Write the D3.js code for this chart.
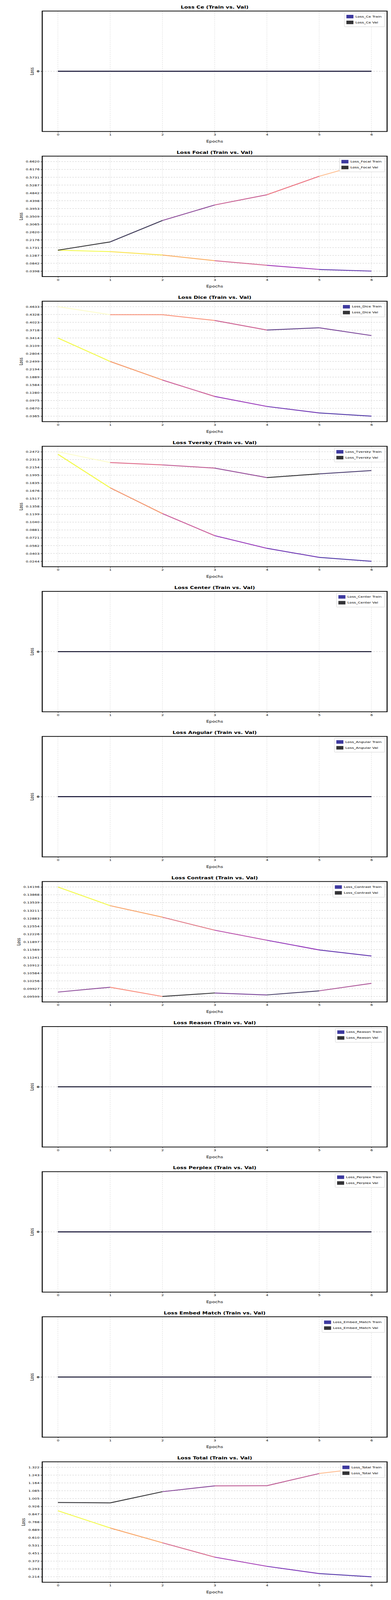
<!DOCTYPE html>
<html>
<head>
<meta charset="utf-8">
<script src="https://cdn.jsdelivr.net/npm/d3@7"></script>
<style>
  html, body { margin: 0; padding: 0; background: #fff; overflow: hidden; }
  #chart { display: block; width: 100vw; height: 100vh; }
  text { font-family: "DejaVu Sans", sans-serif; }
</style>
</head>
<body>
<svg id="chart" viewBox="0 0 1000 5500" preserveAspectRatio="none"></svg>
<script>
const epochs = [0, 1, 2, 3, 4, 5, 6];

const lossNames = ['Ce', 'Focal', 'Dice', 'Tversky', 'Center', 'Angular',
  'Contrast', 'Reason', 'Perplex', 'Embed_Match', 'Total'];

const zeros = [0, 0, 0, 0, 0, 0, 0];

const trainCe = zeros;
const valCe = zeros;
const trainFocal = [0.1586, 0.1503, 0.1310, 0.0990, 0.0730, 0.0492, 0.0398];
const valFocal = [0.1586, 0.2056, 0.3271, 0.4156, 0.4736, 0.5786, 0.6620];
const trainDice = [0.3413, 0.2497, 0.1774, 0.1134, 0.0744, 0.0490, 0.0365];
const valDice = [0.4633, 0.4322, 0.4322, 0.4095, 0.3724, 0.3811, 0.3508];
const trainTversky = [0.2421, 0.1739, 0.1214, 0.0765, 0.0507, 0.0323, 0.0244];
const valTversky = [0.2472, 0.2252, 0.2205, 0.2139, 0.1947, 0.2022, 0.2090];
const trainCenter = zeros;
const valCenter = zeros;
const trainAngular = zeros;
const valAngular = zeros;
const trainContrast = [0.14196, 0.13411, 0.12929, 0.12382, 0.11961, 0.11552, 0.11299];
const valContrast = [0.09783, 0.09987, 0.09599, 0.09746, 0.09664, 0.09836, 0.10151];
const trainReason = zeros;
const valReason = zeros;
const trainPerplex = zeros;
const valPerplex = zeros;
const trainEmbed = zeros;
const valEmbed = zeros;
const trainTotal = [0.882, 0.708, 0.558, 0.413, 0.320, 0.246, 0.214];
const valTotal = [0.966, 0.962, 1.075, 1.134, 1.136, 1.259, 1.322];

// decimals used for the y tick labels of each panel
const tickDigits = [0, 4, 4, 4, 0, 0, 5, 0, 0, 0, 3];

const trainSeries = [trainCe, trainFocal, trainDice, trainTversky, trainCenter, trainAngular,
  trainContrast, trainReason, trainPerplex, trainEmbed, trainTotal];
const valSeries = [valCe, valFocal, valDice, valTversky, valCenter, valAngular,
  valContrast, valReason, valPerplex, valEmbed, valTotal];

const svg = d3.select('#chart');
const left = 108, right = 990, plotH = 414, period = 498.7, top0 = 38;

const x = d3.scaleLinear().domain([-0.3, 6.3]).range([left, right]);

lossNames.forEach((name, k) => {
  const top = top0 + k * period;
  const bottom = top + plotH;
  const label = name.replace('_', ' ');
  const tr = trainSeries[k], va = valSeries[k];
  const all = tr.concat(va);
  const lo = d3.min(all), hi = d3.max(all);
  const flat = hi === lo;
  const pad = flat ? 0.055 : (hi - lo) * 0.05;
  const y = d3.scaleLinear().domain([lo - pad, hi + pad]).range([bottom, top]);
  const ticks = flat ? [lo] : d3.range(15).map(i => lo + (hi - lo) * i / 14);

  const g = svg.append('g');

  // grid
  g.append('g').selectAll('line').data(epochs).join('line')
    .attr('x1', d => x(d)).attr('x2', d => x(d))
    .attr('y1', top).attr('y2', bottom)
    .attr('stroke', '#b0b0b0').attr('stroke-width', 0.8)
    .attr('stroke-dasharray', '4,3').attr('opacity', 0.7);
  g.append('g').selectAll('line').data(ticks).join('line')
    .attr('x1', left).attr('x2', right)
    .attr('y1', d => y(d)).attr('y2', d => y(d))
    .attr('stroke', '#b0b0b0').attr('stroke-width', 0.8)
    .attr('stroke-dasharray', '4,3').attr('opacity', 0.9);

  // lines: each segment coloured by its starting value
  const drawLine = (vals, cmap) => {
    const vlo = d3.min(vals), vhi = d3.max(vals);
    const norm = v => vhi === vlo ? 0 : (v - vlo) / (vhi - vlo);
    const segs = d3.pairs(vals.map((v, i) => [epochs[i], v]));
    g.append('g').selectAll('line').data(segs).join('line')
      .attr('x1', d => x(d[0][0])).attr('y1', d => y(d[0][1]))
      .attr('x2', d => x(d[1][0])).attr('y2', d => y(d[1][1]))
      .attr('stroke', d => cmap(norm(d[0][1])))
      .attr('stroke-opacity', 0.8)
      .attr('stroke-width', 3)
      .attr('stroke-linecap', 'butt');
  };
  drawLine(tr, d3.interpolatePlasma);
  drawLine(va, d3.interpolateMagma);

  // frame
  g.append('rect').attr('x', left).attr('y', top)
    .attr('width', right - left).attr('height', plotH)
    .attr('fill', 'none').attr('stroke', '#000').attr('stroke-width', 2.5);

  // axes
  const xAxis = g.append('g').attr('transform', `translate(0,${bottom})`)
    .call(d3.axisBottom(x).tickValues(epochs).tickFormat(d3.format('d')).tickSize(4));
  const yAxis = g.append('g').attr('transform', `translate(${left},0)`)
    .call(d3.axisLeft(y).tickValues(ticks)
      .tickFormat(d => flat ? '0' : d.toFixed(tickDigits[k])).tickSize(4));
  [xAxis, yAxis].forEach(a => {
    a.select('.domain').remove();
    a.selectAll('text').attr('font-size', 10).attr('fill', '#000')
      .attr('font-family', '"DejaVu Sans", sans-serif');
  });
  if (flat) yAxis.selectAll('text').attr('font-weight', 'bold');
  const yW = yAxis.node().getBBox().width;

  g.append('text').attr('x', (left + right) / 2).attr('y', top - 8)
    .attr('text-anchor', 'middle').attr('font-size', 14).attr('font-weight', 'bold')
    .text(`Loss ${label} (Train vs. Val)`);
  g.append('text').attr('x', (left + right) / 2).attr('y', bottom + 38)
    .attr('text-anchor', 'middle').attr('font-size', 12).text('Epochs');
  g.append('text')
    .attr('transform', `translate(${left - yW - 8},${(top + bottom) / 2}) rotate(-90)`)
    .attr('text-anchor', 'middle').attr('font-size', 12).text('Loss');

  // legend
  const items = [
    { t: `Loss_${name} Train`, c: d3.interpolatePlasma(0) },
    { t: `Loss_${name} Val`, c: d3.interpolateMagma(0) }
  ];
  const lg = g.append('g');
  const txt = lg.selectAll('text').data(items).join('text')
    .attr('font-size', 10).attr('x', 28).attr('y', (d, i) => 16 + i * 20).text(d => d.t);
  const tw = d3.max(txt.nodes(), n => n.getComputedTextLength());
  const bw = tw + 36, bh = 48;
  lg.insert('rect', 'text').attr('width', bw).attr('height', bh).attr('rx', 2)
    .attr('fill', '#fff').attr('fill-opacity', 0.8).attr('stroke', '#ccc');
  lg.selectAll('rect.p').data(items).join('rect').attr('class', 'p')
    .attr('x', 5).attr('y', (d, i) => 7 + i * 20).attr('width', 18).attr('height', 12)
    .attr('fill', d => d.c).attr('fill-opacity', 0.8);
  lg.attr('transform', `translate(${right - 6 - bw},${top + 6})`);
});
</script>
</body>
</html>
